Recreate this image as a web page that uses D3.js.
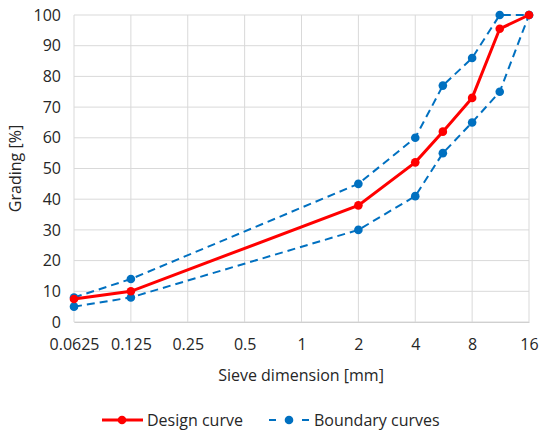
<!DOCTYPE html>
<html>
<head>
<meta charset="utf-8">
<script src="https://cdn.jsdelivr.net/npm/d3@7"></script>
<style>
  body { margin: 0; background: #fff; }
  text { font-family: "Open Sans", "Liberation Sans", sans-serif; fill: #262626; }
</style>
</head>
<body>
<div id="chart"></div>
<script>
const sieves = [0.0625, 0.125, 2, 4, 5.6, 8, 11.2, 16];
const designCurve = [7.5, 10, 38, 52, 62, 73, 95.5, 100];
const upperCurve = [8, 14, 45, 60, 77, 86, 100, 100];
const lowerCurve = [5, 8, 30, 41, 55, 65, 75, 100];
const xTicks = [0.0625, 0.125, 0.25, 0.5, 1, 2, 4, 8, 16];
const yTicks = [0, 10, 20, 30, 40, 50, 60, 70, 80, 90, 100];

const width = 550;
const height = 435;
const margin = { top: 15, right: 21, bottom: 113, left: 74 };

const red = "#ff0000";
const blue = "#0070c0";
const font = "'Open Sans', 'Liberation Sans', sans-serif";

const svg = d3.select("#chart")
  .append("svg")
  .attr("width", width)
  .attr("height", height);

const x = d3.scaleLog()
  .base(2)
  .domain([0.0625, 16])
  .range([margin.left, width - margin.right]);

const y = d3.scaleLinear()
  .domain([0, 100])
  .range([height - margin.bottom, margin.top]);

// grid
svg.append("g")
  .selectAll("line")
  .data(yTicks)
  .join("line")
  .attr("x1", margin.left)
  .attr("x2", width - margin.right)
  .attr("y1", d => y(d))
  .attr("y2", d => y(d))
  .attr("stroke", "#d9d9d9")
  .attr("stroke-width", 1);

svg.append("g")
  .selectAll("line")
  .data(xTicks)
  .join("line")
  .attr("x1", d => x(d))
  .attr("x2", d => x(d))
  .attr("y1", margin.top)
  .attr("y2", height - margin.bottom)
  .attr("stroke", "#d9d9d9")
  .attr("stroke-width", 1);

// axes
svg.append("g")
  .attr("transform", `translate(0,${height - margin.bottom})`)
  .call(d3.axisBottom(x).tickValues(xTicks).tickFormat(d => String(d)).tickSize(0).tickPadding(17))
  .call(g => g.select(".domain").attr("stroke", "#d0d0d0"))
  .attr("font-size", "16px");

svg.append("g")
  .attr("transform", `translate(${margin.left},0)`)
  .call(d3.axisLeft(y).tickValues(yTicks).tickSize(0).tickPadding(13))
  .call(g => g.select(".domain").remove())
  .attr("font-size", "16px");

svg.selectAll(".tick text").attr("fill", "#262626").style("font-family", font);

svg.append("text")
  .attr("x", 301)
  .attr("y", 381)
  .attr("text-anchor", "middle")
  .attr("font-size", "16px")
  .text("Sieve dimension [mm]");

svg.append("text")
  .attr("transform", `translate(21,${(margin.top + height - margin.bottom) / 2}) rotate(-90)`)
  .attr("text-anchor", "middle")
  .attr("font-size", "16px")
  .text("Grading [%]");

const line = d3.line()
  .x((d, i) => x(sieves[i]))
  .y(d => y(d));

function drawSeries(values, color, w, dash, r) {
  const g = svg.append("g");
  g.append("path")
    .datum(values)
    .attr("d", line)
    .attr("fill", "none")
    .attr("stroke", color)
    .attr("stroke-width", w)
    .attr("stroke-dasharray", dash);
  g.selectAll("circle")
    .data(values)
    .join("circle")
    .attr("cx", (d, i) => x(sieves[i]))
    .attr("cy", d => y(d))
    .attr("r", r)
    .attr("fill", color);
}

drawSeries(upperCurve, blue, 2, "8,5", 4.3);
drawSeries(lowerCurve, blue, 2, "8,5", 4.3);
drawSeries(designCurve, red, 3, null, 4.3);

// legend
const legend = svg.append("g").attr("transform", "translate(0,420)");
legend.append("line")
  .attr("x1", 102).attr("x2", 143)
  .attr("stroke", red).attr("stroke-width", 3);
legend.append("circle").attr("cx", 122).attr("r", 4.3).attr("fill", red);
legend.append("text")
  .attr("x", 147).attr("dy", "0.35em")
  .attr("font-size", "16px")
  .text("Design curve");

legend.append("line")
  .attr("x1", 269).attr("x2", 309)
  .attr("stroke", blue).attr("stroke-width", 2)
  .attr("stroke-dasharray", "7,26,7");
legend.append("circle").attr("cx", 289).attr("r", 4.3).attr("fill", blue);
legend.append("text")
  .attr("x", 314).attr("dy", "0.35em")
  .attr("font-size", "16px")
  .text("Boundary curves");
</script>
</body>
</html>
